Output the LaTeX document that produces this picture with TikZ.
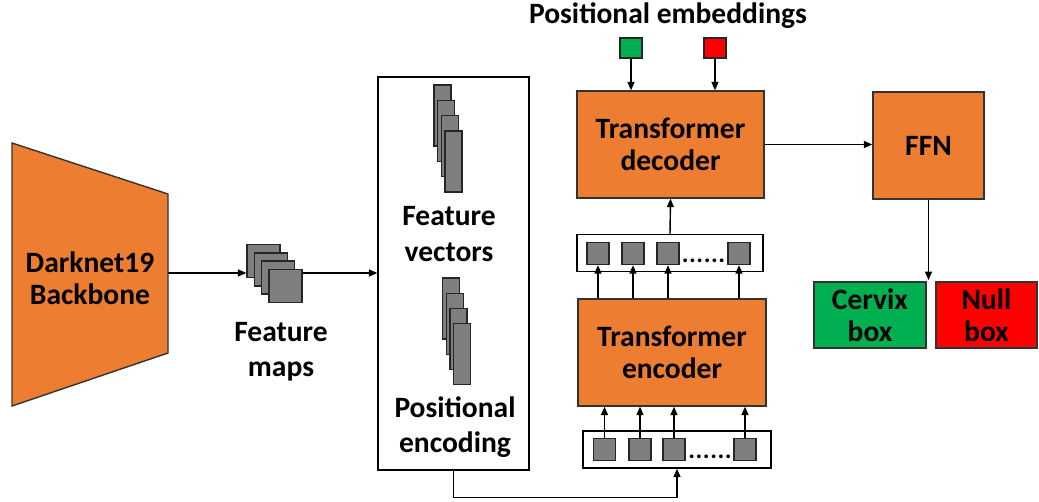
\documentclass[tikz,border=0pt]{standalone}
\usepackage{fontspec}
\setmainfont{Carlito}
\usepackage{tikz}
\usetikzlibrary{arrows.meta,positioning}
\definecolor{boxorange}{HTML}{ED7D31}
\definecolor{boxgreen}{HTML}{00B050}
\definecolor{boxred}{HTML}{FF0000}
\definecolor{cellgray}{HTML}{7F7F7F}
\newcommand{\pxu}{0.025cm}
\newcommand{\tokdots}{.\kern0.4pt.\kern0.4pt.\kern0.4pt.\kern0.4pt.\kern0.4pt.}
\tikzstyle{orange block}=[
    draw = black!80,
    fill = boxorange,
    rectangle,
    align = center,
    font = \fontsize{21}{23}\selectfont\bfseries
]
\tikzstyle{cell}=[
    draw = black!85,
    fill = cellgray,
    rectangle,
    inner sep = 0pt
]

\begin{document}
\begin{tikzpicture}[x=\pxu, y=-\pxu, line width=1pt,
    arr/.style = {-{Triangle[length=6pt,width=5pt]}},
    lbl/.style = {align=center, font=\fontsize{21}{25}\selectfont\bfseries},
    row/.style = {draw, fill=white, rectangle, inner sep=0pt, minimum height=37*\pxu}]
        \useasboundingbox (0,0) rectangle (1039,501);

        % backbone
        \draw[draw=black!80, fill=boxorange] (12,143) -- (168,194) -- (168,353) -- (12,406) -- cycle;
        \node[lbl, font=\fontsize{21}{23}\selectfont\bfseries] (backbone) at (90,278) {Darknet19\\Backbone};
        \coordinate (backbone-out) at (168,273);

        % feature maps
        \foreach \i in {0,...,3}
            \node[cell, minimum size=33*\pxu] (fm\i) at (263.5+7.3*\i, 261+8.3*\i) {};
        \node[lbl] (fmlabel) at (281,352) {Feature\\maps};

        % feature vectors / positional encoding
        \node[draw, rectangle, minimum width=151*\pxu, minimum height=393*\pxu] (fbox) at (453.5,273.5) {};
        \foreach \i in {0,...,3}
            \node[cell, minimum width=17*\pxu, minimum height=61*\pxu] (fv\i) at (442.5+3.7*\i, 115.5+15.3*\i) {};
        \node[lbl] (fvlabel) at (449,234) {Feature\\vectors};
        \foreach \i in {0,...,3}
            \node[cell, minimum width=17*\pxu, minimum height=61*\pxu] (pe\i) at (451+3.7*\i, 308.5+15.2*\i) {};
        \node[lbl] (pelabel) at (455,427) {Positional\\encoding};

        % encoder input tokens
        \node[row, minimum width=188*\pxu] (tokin) at (677,449.5) {};
        \foreach \i/\x in {1/604.5, 2/640, 3/674, 4/745}
            \node[cell, minimum size=22*\pxu] (ti\i) at (\x,449.5) {};
        \node[lbl, inner sep=0pt, anchor=base, font=\fontsize{18}{20}\selectfont\bfseries] (tidots) at (710,458) {\tokdots};

        % encoder
        \node[orange block, minimum width=188*\pxu, minimum height=107*\pxu] (enc) at (672,352.5) {Transformer\\encoder};

        % encoder output tokens
        \node[row, minimum width=186*\pxu] (tokout) at (670,253) {};
        \foreach \i/\x in {1/598, 2/633, 3/668, 4/739}
            \node[cell, minimum size=22*\pxu] (to\i) at (\x,253.5) {};
        \node[lbl, inner sep=0pt, anchor=base, font=\fontsize{18}{20}\selectfont\bfseries] (todots) at (703.5,262) {\tokdots};

        % decoder
        \node[orange block, minimum width=187*\pxu, minimum height=107*\pxu] (dec) at (670.5,144.5) {Transformer\\decoder};
        \node[lbl] (embtitle) at (668,16) {Positional embeddings};
        \node[draw=black!85, fill=boxgreen, minimum width=22*\pxu, minimum height=20*\pxu, inner sep=0pt] (embgreen) at (631,48) {};
        \node[draw=black!85, fill=boxred, minimum width=22*\pxu, minimum height=20*\pxu, inner sep=0pt] (embred) at (715,48) {};

        % prediction head
        \node[orange block, minimum width=111*\pxu, minimum height=107*\pxu] (ffn) at (928.5,145.5) {FFN};
        \node[orange block, fill=boxgreen, minimum width=112*\pxu, minimum height=66*\pxu] (cervix) at (870,315) {Cervix\\box};
        \node[orange block, fill=boxred, minimum width=101*\pxu, minimum height=66*\pxu] (null) at (986.5,315) {Null\\box};
        \coordinate (ffn-out) at (928.5,280);

        % connectors
        \draw[arr] (backbone-out) -- (backbone-out -| fm0.west);
        \draw[arr] (fm3.east |- backbone-out) -- (backbone-out -| fbox.west);
        \draw[arr] (fbox.south) -- ++(0,27) -| (tokin.south);
        \foreach \i in {1,...,4}
            \draw[arr] (ti\i.north) -- (ti\i.north |- enc.south);
        \foreach \i in {1,...,4}
            \draw[arr] (to\i.south |- enc.north) -- (to\i.south);
        \draw[arr] (tokout.north) -- (dec.south);
        \draw[arr] (embgreen.south) -- (embgreen.south |- dec.north);
        \draw[arr] (embred.south) -- (embred.south |- dec.north);
        \draw[arr] (dec.east) -- (dec.east -| ffn.west);
        \draw[arr] (ffn.south) -- (ffn-out);

    \end{tikzpicture}
\end{document}
